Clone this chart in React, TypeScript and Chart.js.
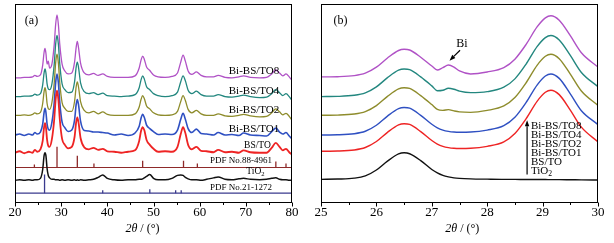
import { useEffect, useRef } from "react";
import { Chart, registerables } from "chart.js";
Chart.register(...registerables);

const SERIF = "'Liberation Serif', 'Times New Roman', serif";

// ---------- Panel (a): 2θ 20–80 ----------
const XA = [20, 21, 22, 23, 23.8, 24.3, 24.8, 25.5, 26.0, 26.3, 26.5, 26.7, 26.95, 27.2, 27.5, 28.0, 28.5, 28.8, 29.1, 29.4, 29.7, 30.2, 30.8, 31.5, 32.3, 32.9, 33.25, 33.5, 33.75, 34.2, 35, 36, 37, 38, 39, 40, 41.5, 43, 44.5, 46, 46.9, 47.3, 47.65, 48.0, 48.5, 49.2, 50, 51, 52.5, 54, 55.2, 55.9, 56.4, 56.9, 57.5, 58.3, 59.3, 60.3, 61.5, 63, 64, 65.5, 67, 68.5, 69.5, 71, 73, 74.5, 75.6, 76.5, 77.3, 78, 78.7, 79.4, 80];

const TIO2_A = [0, 0.5, 0, 0.5, 0, 0.5, 0.5, 2, 11, 25, 28, 25, 12, 5, 2.5, 1, 1, 0.5, 0.5, 0.5, 0, 0.5, 0, 0.5, 0, 0.5, 0, 0.5, 0, 0.5, 0, 0.5, 1, 3, 5.5, 2, 0.5, 0, 0.5, 0.5, 1, 1, 1.5, 2.5, 4, 6, 2, 0.5, 0.5, 2, 5, 5.5, 5, 3, 1.5, 0.5, 0.5, 0, 1, 2.5, 3.5, 1, 0.5, 1.5, 2, 1, 0.5, 1, 2, 2.5, 1, 0.5, 0.5, 0, 0];
const BSTO_A = [0, 1.5, -0.5, 1, 0, 3, 1, 3.5, 12, 26, 30, 26, 13, 7, 6, 14, 34, 54, 63, 54, 34, 14, 8, 4.5, 6, 16, 31, 36, 31, 15, 5.5, 3.5, 5, 3, 4, 1.5, 1, 0, 1, 2.5, 12, 22, 26, 23, 13, 8, 4, 1, 1.5, 1, 6, 19, 26, 20, 8, 3.5, 6, 2, 1.5, 0.5, 3, 0.5, 1, 0, 2.5, 0.5, 0, 0, 5, 10, 6, 2.5, 4, 0.5, -2];
const TO1_A = [0, 1, -0.5, 1, 0, 2.5, 1, 3, 11, 23, 27, 23, 11, 6, 5, 13, 33, 53, 62, 53, 33, 13, 7.5, 3.5, 5, 15, 31, 36, 31, 14, 4.5, 4, 3, 3, 2.5, 2, 0, 1, -0.5, 2, 9, 17, 21, 18, 10, 6.5, 3.5, 0.5, 1, 0.5, 5, 16, 22, 16, 6.5, 2.5, 6, 1.5, 1, 0, 2.5, 0, 0.5, -0.5, 2, 0, -0.5, -1, 3.5, 7, 3, 1, 2.5, -1, -4];
const TO2_A = [0, 0, 0.5, 0, 1, 2.5, 1.5, 3, 12, 24, 28, 24, 12, 7, 6, 13, 33, 53, 62, 53, 33, 13, 7, 4, 4, 14, 29, 34, 29, 14, 5, 2.5, 4, 1.5, 3.5, 1, 0, 0, 0, 1.5, 8.5, 16, 20, 17, 9.5, 6.5, 2.5, 0.5, 0, 0.5, 4, 14, 20, 15, 6, 2.5, 5, 1.5, 0, 0, 1.5, -0.5, -1, 0, 1, -0.5, -1.5, -1, 2.5, 6.5, 3.5, 0.5, 2, -1, -5];
const TO4_A = [0, 0, 0.5, 0.5, 1, 2.5, 1.5, 3, 12, 24, 28, 24, 13, 8, 7, 13, 33, 53, 62, 53, 33, 13, 7, 4, 4.5, 15, 30, 35, 30, 14, 5, 3, 4, 2, 3.5, 1, 0.5, 0, 0.5, 2, 9, 17, 21, 18, 10, 7, 3, 1, 0, 1, 4.5, 15, 21, 16, 6.5, 3, 5.5, 2, 0.5, 0.5, 2, 0, -0.5, 0.5, 1.5, 0, -1, -0.5, 3, 7, 4, 1, 3, 0, -4];
const TO8_A = [0, 0, 0.5, 0.5, 1, 2.5, 1.5, 3, 13, 26, 30, 25, 14, 17, 10, 14, 34, 54, 64, 54, 34, 14, 7, 4, 5, 16, 31, 37, 31, 15, 5, 3, 4.5, 2.5, 4, 1.5, 0.5, 0.5, 0.5, 2, 10, 18, 22, 19, 11, 7.5, 3, 1, 0.5, 1.5, 5, 16, 23, 17, 7, 3.5, 6, 2.5, 1, 1, 2.5, 0.5, 0, 1, 2, 0.5, 0, 0.5, 4, 8, 5, 2, 4, 1, -2.5];

// stacking offsets: TiO2, BS/TO, Bi-BS/TO1, Bi-BS/TO2, Bi-BS/TO4, Bi-BS/TO8
const OFFSETS_A = [22, 50, 68, 88, 107, 126];

// reference patterns (stick positions and heights)
const PDF88_POS = [24.2, 29.1, 33.5, 37.1, 47.65, 56.5, 59.5, 76.5, 78.7];
const PDF88_H = [3, 21, 12, 4, 7, 7, 4, 6, 4];
const PDF88_BASE = 35;
const PDF21_POS = [26.4, 39.0, 49.2, 54.8, 56.0];
const PDF21_H = [19, 3, 4, 3, 3];
const PDF21_BASE = 9;

// ---------- Panel (b): 2θ 25–30 ----------
const XB = [25, 25.3, 25.6, 25.8, 26.0, 26.2, 26.4, 26.5, 26.6, 26.8, 27.0, 27.1, 27.2, 27.3, 27.4, 27.5, 27.7, 28.0, 28.3, 28.5, 28.7, 28.9, 29.05, 29.15, 29.3, 29.5, 29.7, 30.0];
const TIO2_B = [23, 23.3, 24.2, 26.5, 32.5, 41.5, 48.8, 50, 49, 42, 33, 29.5, 27, 25.5, 24.5, 24, 23.5, 23.2, 23, 23, 22.8, 22.8, 22.8, 22.7, 22.7, 22.6, 22.5, 22.3];
const BSTO_B = [51.5, 51.7, 52.8, 55.3, 61.4, 70.7, 78.3, 79.5, 78.8, 71.5, 62.4, 58.8, 56.5, 55.2, 54.5, 54.3, 54.5, 56.5, 61, 69.5, 84.3, 102.2, 111.4, 113.5, 109, 93.3, 76, 61];
const TO1_B = [68, 68.2, 69.3, 71.8, 77.9, 87.2, 94.8, 96, 95.3, 88, 78.9, 75.3, 73, 71.7, 71, 70.8, 71, 73, 77.5, 86, 100.8, 118.7, 127.9, 130, 125.5, 109.8, 92.7, 78.5];
const TO2_B = [88, 88.2, 89.3, 91.8, 97.9, 107.2, 114.8, 116, 115.3, 108, 98.9, 94, 93, 93.8, 92.5, 91.5, 91, 93, 97.5, 106, 120.8, 138.7, 147.9, 150, 145.5, 129.8, 112.7, 98];
const TO4_B = [107, 107.2, 108.3, 110.8, 116.9, 126.2, 133.8, 135, 134.3, 127, 117.9, 113, 113.5, 115.5, 114.5, 112.5, 111, 112, 116.5, 125, 139.8, 157.7, 166.9, 169, 164.5, 148.8, 131.5, 117];
const TO8_B = [127, 127.2, 128.3, 130.8, 136.9, 146.2, 153.8, 155, 154.3, 147, 138, 134, 136.5, 139, 137, 133, 130, 132, 136.5, 145, 159.8, 177.7, 186.9, 189, 184.5, 168.8, 151.5, 137];

const NAMES = ["TiO2", "BS/TO", "Bi-BS/TO1", "Bi-BS/TO2", "Bi-BS/TO4", "Bi-BS/TO8"];
const COLORS = ["#111111", "#EE2424", "#2F50C2", "#8E8C2C", "#23877F", "#B052C6"];
const PDF88_COLOR = "#8E2A2A";
const PDF21_COLOR = "#3A3A8E";

type TextItem = { t: string; x: number; y: number; size: number; align?: CanvasTextAlign; sub?: string };
type Arrow = { x1: number; y1: number; x2: number; y2: number };

function decor(opts: { major: number; minor: number; titleX: number; texts: TextItem[]; arrows: Arrow[] }) {
  return {
    id: "decor",
    afterDraw(chart: any) {
      const { ctx, chartArea: a, scales } = chart;
      const xs = scales.x;
      const ys = scales.y;
      ctx.save();
      ctx.strokeStyle = "#000";
      ctx.lineWidth = 1;
      const L = Math.round(a.left) + 0.5;
      const T = Math.round(a.top) + 0.5;
      const R = Math.round(a.right) - 0.5;
      const B = Math.round(a.bottom) + 0.5;
      ctx.strokeRect(L, T, R - L, B - T);
      for (let v = xs.min; v <= xs.max + 1e-9; v += opts.minor) {
        const px = Math.round(xs.getPixelForValue(v)) + 0.5;
        const r = v / opts.major;
        const isMajor = Math.abs(r - Math.round(r)) < 1e-6;
        ctx.beginPath();
        ctx.moveTo(px, B);
        ctx.lineTo(px, B + (isMajor ? 4 : 2.5));
        ctx.stroke();
      }
      ctx.fillStyle = "#000";
      ctx.textBaseline = "middle";
      const ty = a.bottom + 27;
      ctx.font = `italic 12px ${SERIF}`;
      const p1 = "2θ";
      const w1 = ctx.measureText(p1).width;
      ctx.font = `12px ${SERIF}`;
      const p2 = " / (°)";
      const w2 = ctx.measureText(p2).width;
      const cx = xs.getPixelForValue(opts.titleX);
      const sx = cx - (w1 + w2) / 2;
      ctx.textAlign = "left";
      ctx.font = `italic 12px ${SERIF}`;
      ctx.fillText(p1, sx, ty);
      ctx.font = `12px ${SERIF}`;
      ctx.fillText(p2, sx + w1, ty);
      for (const it of opts.texts) {
        const px = xs.getPixelForValue(it.x);
        const py = ys.getPixelForValue(it.y);
        ctx.font = `${it.size}px ${SERIF}`;
        const wm = ctx.measureText(it.t).width;
        let ws = 0;
        if (it.sub) {
          ctx.font = `${it.size * 0.7}px ${SERIF}`;
          ws = ctx.measureText(it.sub).width;
        }
        const tot = wm + ws;
        let start = px;
        if ((it.align || "center") === "center") start = px - tot / 2;
        else if (it.align === "right") start = px - tot;
        ctx.textAlign = "left";
        ctx.font = `${it.size}px ${SERIF}`;
        ctx.fillText(it.t, start, py);
        if (it.sub) {
          ctx.font = `${it.size * 0.7}px ${SERIF}`;
          ctx.fillText(it.sub, start + wm, py + it.size * 0.3);
        }
      }
      for (const ar of opts.arrows) {
        const x1 = xs.getPixelForValue(ar.x1);
        const y1 = ys.getPixelForValue(ar.y1);
        const x2 = xs.getPixelForValue(ar.x2);
        const y2 = ys.getPixelForValue(ar.y2);
        const ang = Math.atan2(y2 - y1, x2 - x1);
        const hl = 6;
        const hw = 2.2;
        const bx = x2 - hl * Math.cos(ang);
        const by = y2 - hl * Math.sin(ang);
        ctx.beginPath();
        ctx.lineWidth = 1.2;
        ctx.moveTo(x1, y1);
        ctx.lineTo(bx, by);
        ctx.stroke();
        ctx.beginPath();
        ctx.moveTo(x2, y2);
        ctx.lineTo(bx + hw * Math.sin(ang), by - hw * Math.cos(ang));
        ctx.lineTo(bx - hw * Math.sin(ang), by + hw * Math.cos(ang));
        ctx.closePath();
        ctx.fill();
      }
      ctx.restore();
    },
  };
}

function curve(xs: number[], ys: number[], offset: number, color: string, width: number, label: string) {
  return {
    label,
    data: xs.map((x, i) => ({ x, y: offset + ys[i] })),
    borderColor: color,
    borderWidth: width,
    pointRadius: 0,
    fill: false,
    cubicInterpolationMode: "monotone" as const,
  };
}

function sticks(pos: number[], h: number[], base: number, color: string, label: string) {
  const data: any[] = [];
  pos.forEach((p, i) => {
    data.push({ x: p, y: base }, { x: p, y: base + h[i] }, { x: p, y: null });
  });
  return { label, data, borderColor: color, borderWidth: 1.3, pointRadius: 0, spanGaps: false, tension: 0 };
}

function hline(x0: number, x1: number, base: number, color: string, label: string) {
  return { label, data: [{ x: x0, y: base }, { x: x1, y: base }], borderColor: color, borderWidth: 1.2, pointRadius: 0, tension: 0 };
}

function baseOptions(min: number, max: number, step: number, pad: any) {
  return {
    responsive: false,
    maintainAspectRatio: false,
    animation: false as const,
    layout: { padding: pad },
    plugins: { legend: { display: false }, tooltip: { enabled: false } },
    scales: {
      x: {
        type: "linear" as const,
        min,
        max,
        grid: { display: false, drawTicks: false },
        border: { display: false },
        ticks: { stepSize: step, autoSkip: false, maxRotation: 0, padding: 3, color: "#000", font: { family: SERIF, size: 13 } },
      },
      y: { type: "linear" as const, display: false, min: 0, max: 201 },
    },
  };
}

function configA(): any {
  const ds = [
    curve(XA, TIO2_A, OFFSETS_A[0], COLORS[0], 1.5, NAMES[0]),
    curve(XA, BSTO_A, OFFSETS_A[1], COLORS[1], 1.8, NAMES[1]),
    curve(XA, TO1_A, OFFSETS_A[2], COLORS[2], 1.6, NAMES[2]),
    curve(XA, TO2_A, OFFSETS_A[3], COLORS[3], 1.3, NAMES[3]),
    curve(XA, TO4_A, OFFSETS_A[4], COLORS[4], 1.3, NAMES[4]),
    curve(XA, TO8_A, OFFSETS_A[5], COLORS[5], 1.3, NAMES[5]),
    sticks(PDF88_POS, PDF88_H, PDF88_BASE, PDF88_COLOR, "PDF No.88-4961"),
    hline(20, 80, PDF88_BASE, PDF88_COLOR, "PDF88 base"),
    sticks(PDF21_POS, PDF21_H, PDF21_BASE, PDF21_COLOR, "PDF No.21-1272"),
    hline(20, 80, PDF21_BASE, PDF21_COLOR, "PDF21 base"),
  ];
  const texts: TextItem[] = [
    { t: "(a)", x: 23.57, y: 184, size: 12 },
    { t: "Bi-BS/TO8", x: 71.77, y: 132.5, size: 11 },
    { t: "Bi-BS/TO4", x: 71.77, y: 113, size: 11 },
    { t: "Bi-BS/TO2", x: 71.77, y: 93, size: 11 },
    { t: "Bi-BS/TO1", x: 71.77, y: 73.5, size: 11 },
    { t: "BS/TO", x: 72.52, y: 57, size: 9.5 },
    { t: "PDF No.88-4961", x: 68.95, y: 41.5, size: 9 },
    { t: "TiO", sub: "2", x: 72.09, y: 31, size: 9.5 },
    { t: "PDF No.21-1272", x: 68.95, y: 14.5, size: 9 },
  ];
  return {
    type: "line",
    data: { datasets: ds },
    options: baseOptions(20, 80, 10, { left: 15, right: 15, top: 4, bottom: 19.4 }),
    plugins: [decor({ major: 10, minor: 5, titleX: 47.6, texts, arrows: [] })],
  };
}

function configB(): any {
  const ds = [
    curve(XB, TIO2_B, 0, COLORS[0], 1.4, NAMES[0]),
    curve(XB, BSTO_B, 0, COLORS[1], 1.4, NAMES[1]),
    curve(XB, TO1_B, 0, COLORS[2], 1.4, NAMES[2]),
    curve(XB, TO2_B, 0, COLORS[3], 1.4, NAMES[3]),
    curve(XB, TO4_B, 0, COLORS[4], 1.4, NAMES[4]),
    curve(XB, TO8_B, 0, COLORS[5], 1.4, NAMES[5]),
  ];
  const texts: TextItem[] = [
    { t: "(b)", x: 25.35, y: 184, size: 12 },
    { t: "Bi", x: 27.545, y: 161, size: 12 },
    { t: "Bi-BS/TO8", x: 28.79, y: 77.3, size: 11, align: "left" },
    { t: "Bi-BS/TO4", x: 28.79, y: 68, size: 11, align: "left" },
    { t: "Bi-BS/TO2", x: 28.79, y: 59, size: 11, align: "left" },
    { t: "Bi-BS/TO1", x: 28.79, y: 50, size: 11, align: "left" },
    { t: "BS/TO", x: 28.79, y: 40.7, size: 11, align: "left" },
    { t: "TiO", sub: "2", x: 28.79, y: 31.3, size: 11, align: "left" },
  ];
  const arrows: Arrow[] = [
    { x1: 27.51, y1: 154, x2: 27.32, y2: 143.5 },
    { x1: 28.72, y1: 28, x2: 28.72, y2: 83 },
  ];
  return {
    type: "line",
    data: { datasets: ds },
    options: baseOptions(25, 30, 1, { left: 14, right: 16, top: 4, bottom: 19.4 }),
    plugins: [decor({ major: 1, minor: 0.5, titleX: 27.55, texts, arrows })],
  };
}

function Panel({ make, left }: { make: () => any; left: number }) {
  const ref = useRef<HTMLCanvasElement>(null);
  useEffect(() => {
    const chart = new Chart(ref.current as HTMLCanvasElement, make());
    return () => chart.destroy();
  }, []);
  return (
    <canvas
      ref={ref}
      width={307}
      height={243}
      style={{ position: "absolute", left, top: 0, width: 307, height: 243 }}
    />
  );
}

export default function App() {
  return (
    <div style={{ position: "fixed", left: 0, top: 0, width: 614, height: 243, background: "#fff" }}>
      <Panel make={configA} left={0} />
      <Panel make={configB} left={307} />
    </div>
  );
}
